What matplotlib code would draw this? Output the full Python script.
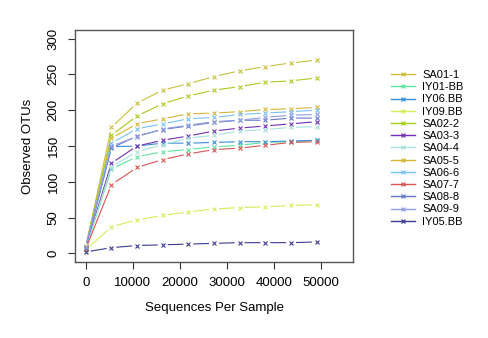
#!/usr/bin/env python3

import matplotlib
matplotlib.use('Agg')
import matplotlib.pyplot as plt
from matplotlib.lines import Line2D
import numpy as np

plt.rcParams['font.family'] = ['Liberation Sans', 'DejaVu Sans']

# Rarefaction depths (sequences per sample)
depths = [0, 5461, 10922, 16383, 21844, 27305, 32766, 38227, 43688, 49149]

samples = ['SA01-1', 'IY01-BB', 'IY06.BB', 'IY09.BB', 'SA02-2', 'SA03-3', 'SA04-4',
           'SA05-5', 'SA06-6', 'SA07-7', 'SA08-8', 'SA09-9', 'IY05.BB']

colors = ['#c8c03c', '#5ee3a0', '#3a8ed6', '#d6ec5a', '#a6cc1c', '#7030b0', '#a8e0dc',
          '#d4b63a', '#78c2f2', '#d85454', '#6878c8', '#8ea0e2', '#3c3c92']

# Observed OTUs per sample at each depth
sa01_1 = [9, 176, 210, 228, 237, 247, 255, 261, 266, 270]
iy01_bb = [7, 118, 135, 142, 145, 149, 151, 155, 156, 158]
iy06_bb = [8, 149, 150, 154, 154, 155, 156, 156, 157, 158]
iy09_bb = [5, 37, 47, 53, 58, 62, 64, 65, 67, 68]
sa02_2 = [9, 165, 192, 209, 220, 228, 233, 239, 241, 245]
sa03_3 = [8, 126, 150, 158, 164, 171, 175, 178, 181, 184]
sa04_4 = [7, 121, 142, 152, 161, 165, 171, 173, 176, 177]
sa05_5 = [10, 161, 181, 188, 195, 196, 198, 201, 202, 204]
sa06_6 = [9, 154, 174, 181, 188, 190, 194, 196, 198, 200]
sa07_7 = [6, 96, 120, 131, 139, 145, 147, 151, 155, 156]
sa08_8 = [8, 147, 164, 173, 178, 183, 186, 186, 189, 189]
sa09_9 = [9, 150, 163, 174, 179, 184, 186, 190, 193, 194]
iy05_bb = [2, 8, 11, 12, 13, 14, 15, 15, 15, 16]

series = [sa01_1, iy01_bb, iy06_bb, iy09_bb, sa02_2, sa03_3, sa04_4,
          sa05_5, sa06_6, sa07_7, sa08_8, sa09_9, iy05_bb]

fig = plt.figure(figsize=(4.88, 3.38), dpi=100)
ax = fig.add_axes([0.1537, 0.2249, 0.5697, 0.6863])
ax.set_xlim(-2280, 56870)
ax.set_ylim(-12, 312)

ax.set_xticks([0, 10000, 20000, 30000, 40000, 50000])
ax.set_yticks([0, 50, 100, 150, 200, 250, 300])
ax.tick_params(axis='both', length=5, width=0.8, color='#333333', labelsize=9.5, pad=6)
ax.tick_params(axis='y', labelrotation=90)
for lab in ax.get_yticklabels():
    lab.set_verticalalignment('center')
for sp in ax.spines.values():
    sp.set_color('#555555')
    sp.set_linewidth(1.0)

ax.set_xlabel('Sequences Per Sample', fontsize=9.5, labelpad=9)
ax.set_ylabel('Observed OTUs', fontsize=9.5, labelpad=10)

# lines broken around each point, like type="b" in R
gap = 5.5  # pixels
fig.canvas.draw()
to_disp = ax.transData
to_data = ax.transData.inverted()
for vals, col in zip(series, colors):
    pts = to_disp.transform(np.column_stack([depths, vals]))
    segs_x, segs_y = [], []
    for p0, p1 in zip(pts[:-1], pts[1:]):
        d = p1 - p0
        L = np.hypot(*d)
        if L <= 2 * gap:
            continue
        u = d / L
        a = to_data.transform(p0 + u * gap)
        b = to_data.transform(p1 - u * gap)
        segs_x += [a[0], b[0], np.nan]
        segs_y += [a[1], b[1], np.nan]
    ax.plot(segs_x, segs_y, color=col, lw=0.8)
    ax.plot(depths, vals, ls='none', marker='x', ms=3.0, mew=0.8, color=col)

handles = [Line2D([], [], color=c, lw=1.0, marker='x', ms=3.5, mew=0.9) for c in colors]
fig.legend(handles, samples, loc='upper left', bbox_to_anchor=(0.792, 0.806),
           frameon=False, fontsize=8, handlelength=2.2, handletextpad=0.6,
           labelspacing=0.2, borderaxespad=0)

fig.savefig('out.png', dpi=100)
